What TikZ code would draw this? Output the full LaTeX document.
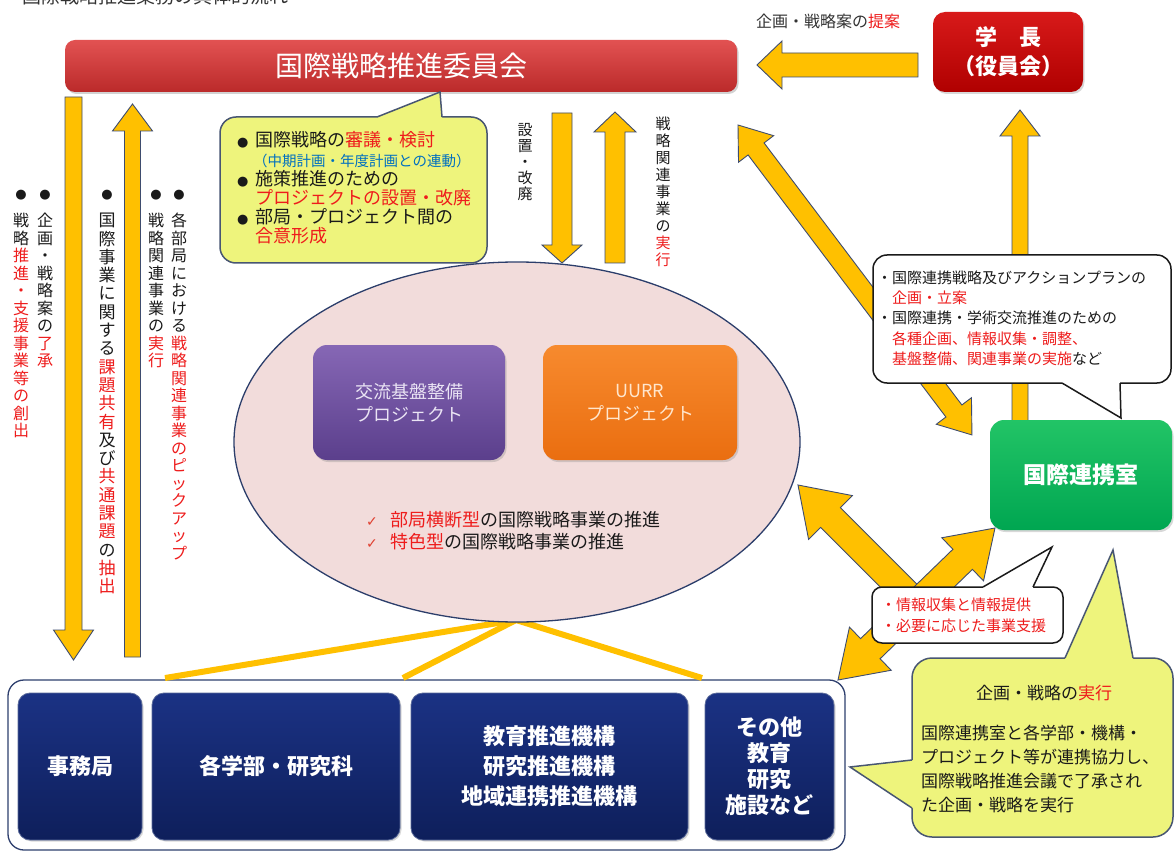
\documentclass[tikz,border=0pt]{standalone}
\usepackage{fontspec}
\setmainfont{Noto Sans CJK JP}
\newfontfamily\dv{DejaVu Sans}
\usetikzlibrary{calc,shapes.geometric,shadows}
\definecolor{ay}{HTML}{FFC000}
\definecolor{ab}{HTML}{3E4C6E}
\definecolor{jred}{HTML}{EE1C1C}
\definecolor{jblue}{HTML}{0070C0}
\definecolor{cyg}{HTML}{EEF47C}
\definecolor{cbd}{HTML}{485672}
\definecolor{wbd}{HTML}{1A1A1A}
\definecolor{ellf}{HTML}{F2DCDB}
\definecolor{elld}{HTML}{2C3E6B}
\definecolor{purT}{HTML}{8667B5}
\definecolor{purB}{HTML}{5B3F8C}
\definecolor{orT}{HTML}{F78A2E}
\definecolor{orB}{HTML}{EA6E10}
\definecolor{grT}{HTML}{22C466}
\definecolor{grB}{HTML}{00A651}
\definecolor{navT}{HTML}{1B3284}
\definecolor{navB}{HTML}{0E1F5B}
\definecolor{navE}{HTML}{5A6A9A}
\definecolor{contB}{HTML}{2E3F6E}
\definecolor{barT}{HTML}{E25252}
\definecolor{barB}{HTML}{BB2A2A}
\definecolor{gakT}{HTML}{D81A1A}
\definecolor{gakB}{HTML}{B00000}
\definecolor{tg}{HTML}{333333}
\definecolor{tblack}{HTML}{1A1A1A}
\definecolor{chk}{HTML}{E04030}
\newcommand\fs[2]{\fontsize{#1}{#2}\selectfont}
\newcommand\bul{\makebox[18pt][l]{\dv\fontsize{13}{13}\selectfont ●}}
\newcommand\chk{\makebox[24pt][l]{\dv\fontsize{14}{14}\selectfont\color{chk}✓}}
\makeatletter
\def\vtend{\vtend@}
\def\vtR{\vtR@}
\def\vtK{\vtK@}
\newcommand\vt[2][17.5pt]{\vbox{\baselineskip=#1\relax\lineskiplimit=-30pt\lineskip=0pt\relax\vt@loop#2\vtend}}
\def\vt@loop#1{\ifx#1\vtend\let\vt@next\relax\else\vt@do#1\let\vt@next\vt@loop\fi\vt@next}
\def\vt@do#1{\ifx#1\vtR\color{jred}\else\ifx#1\vtK\color{tblack}\else\hbox to 1em{\hss#1\hss}\fi\fi}
\makeatother
% single block arrow: start, end, half shaft, half head, head length
\newcommand\sarr[5]{\path[arr] let \p1=(#1),\p2=(#2),\n1={atan2(\y2-\y1,\x2-\x1)},\n2={veclen(\x2-\x1,\y2-\y1)} in
 ([ar]0pt,#3pt) -- ([ar]\n2-#5pt,#3pt) -- ([ar]\n2-#5pt,#4pt) -- ([ar]\n2,0pt) -- ([ar]\n2-#5pt,-#4pt) -- ([ar]\n2-#5pt,-#3pt) -- ([ar]0pt,-#3pt) -- cycle;}
% double block arrow
\newcommand\darr[5]{\path[arr] let \p1=(#1),\p2=(#2),\n1={atan2(\y2-\y1,\x2-\x1)},\n2={veclen(\x2-\x1,\y2-\y1)} in
 ([ar]0pt,0pt) -- ([ar]#5pt,#4pt) -- ([ar]#5pt,#3pt) -- ([ar]\n2-#5pt,#3pt) -- ([ar]\n2-#5pt,#4pt) -- ([ar]\n2,0pt) -- ([ar]\n2-#5pt,-#4pt) -- ([ar]\n2-#5pt,-#3pt) -- ([ar]#5pt,-#3pt) -- ([ar]#5pt,-#4pt) -- cycle;}
% callout tail: fill, border, base1, tip, base2, inward dx, dy
\newcommand\tail[7]{\fill[#1] ($(#3)+(#6,#7)$) -- (#3) -- (#4) -- (#5) -- ($(#5)+(#6,#7)$) -- cycle;
 \draw[draw=#2,line width=1.5pt,line join=miter] (#3) -- (#4) -- (#5);}
\begin{document}
\begin{tikzpicture}[x=1pt,y=-1pt,
  arr/.style={fill=ay,draw=ab,line width=0.9pt,line join=miter},
  ar/.style={shift={(\p1)},rotate=\n1},
  yl/.style={draw=ay,line width=6pt},
  bulnode/.style={font=\dv\fs{13}{13},inner sep=0pt,text=tblack},
  vtx/.style={anchor=north,inner sep=0pt,font=\fs{16}{17.5},text=tblack},
  navbox/.style={rounded corners=12pt,top color=navT,bottom color=navB,draw=navE,line width=0.8pt,text=white,font=\bfseries\fs{22}{30},align=center,minimum height=147pt,drop shadow={opacity=0.3,shadow xshift=1.5pt,shadow yshift=-1.5pt}},
  projbox/.style={rounded corners=14pt,minimum height=115pt,align=center,font=\fs{18}{23},drop shadow={opacity=0.3,shadow xshift=1.5pt,shadow yshift=-2pt}},
  cshape/.style={rounded corners=16pt,draw=cbd,line width=1.5pt,fill=cyg,inner sep=0pt},
  wshape/.style={rounded corners=14pt,draw=wbd,line width=1.5pt,fill=white,inner sep=0pt},
  ctext/.style={anchor=west,align=left,inner sep=0pt,text=tblack},
]
\useasboundingbox (0,0) rectangle (1176,853);
\fill[white] (0,0) rectangle (1176,853);

% title (cut off at the top edge, as in the reference)
\node[anchor=base west,inner sep=0pt,font=\fs{19}{20},text=tg] (title) at (22,4) {国際戦略推進業務の具体的流れ};

% bottom container and units
\node[draw=contB,line width=1.3pt,fill=white,rounded corners=16pt,minimum width=837pt,minimum height=170pt] (cont) at (426.5,765) {};
\node[navbox,minimum width=124pt] (jim) at (80,766.5) {事務局};
\node[navbox,minimum width=248pt] (gak) at (276,766.5) {各学部・研究科};
\node[navbox,minimum width=277pt] (kik) at (549.5,766.5) {教育推進機構\\研究推進機構\\地域連携推進機構};
\node[navbox,minimum width=129pt,font=\bfseries\fs{22}{26}] (oth) at (769.5,766.5) {その他\\教育\\研究\\施設など};

% yellow links from ellipse to the units
\coordinate (yl1) at (165,678);
\coordinate (yl2) at (403,678);
\coordinate (yl3) at (702,678);
\coordinate (ylc) at (516,620);
\draw[yl] (ylc) -- (yl1);
\draw[yl] (ylc) -- (yl2);
\draw[yl] (ylc) -- (yl3);

% ellipse with projects
\node[ellipse,fill=ellf,draw=elld,line width=1.3pt,minimum width=566pt,minimum height=360pt,inner sep=0pt] (ell) at (517,442) {};
\node[projbox,minimum width=192pt,top color=purT,bottom color=purB,text={rgb,255:red,234;green,228;blue,244}] (pur) at (409,402.5) {交流基盤整備\\プロジェクト};
\node[projbox,minimum width=194pt,top color=orT,bottom color=orB,text={rgb,255:red,255;green,230;blue,205}] (ora) at (640,402.5) {UURR\\プロジェクト};
\node[ctext,font=\fs{18}{22}] (etx) at (366,531) {\chk\textcolor{jred}{部局横断型}の国際戦略事業の推進\\\chk\textcolor{jred}{特色型}の国際戦略事業の推進};

% top bar and president
\node[rounded corners=10pt,top color=barT,bottom color=barB,minimum width=672pt,minimum height=52pt,text=white,font=\fs{28}{30},drop shadow={opacity=0.35,shadow xshift=1.5pt,shadow yshift=-2pt}] (bar) at (401,66) {国際戦略推進委員会};
\node[rounded corners=12pt,top color=gakT,bottom color=gakB,minimum width=150pt,minimum height=80pt,text=white,font=\bfseries\fs{22}{29},align=center,drop shadow={opacity=0.3,shadow xshift=1.5pt,shadow yshift=-2pt}] (pres) at (1008,52) {学　長\\（役員会）};
\node[font=\fs{16}{18},text=tg,inner sep=0pt] (plab) at (828,21) {企画・戦略案の\textcolor{jred}{提案}};

% block arrows
\coordinate (t1s) at (918,65);   \coordinate (t1e) at (757,65);
\coordinate (ld1) at (73.5,97);  \coordinate (ld2) at (73.5,660);
\coordinate (lu1) at (132.5,657);\coordinate (lu2) at (132.5,104);
\coordinate (cd1) at (562,113);  \coordinate (cd2) at (562,263);
\coordinate (cu1) at (615,263);  \coordinate (cu2) at (615,112);
\coordinate (dg1) at (738,125);  \coordinate (dg2) at (972,435);
\coordinate (ur1) at (1020,422); \coordinate (ur2) at (1020,110);
\coordinate (lw1) at (915,602);  \coordinate (lw2) at (798,485);
\coordinate (lx1) at (838,680);  \coordinate (lx2) at (995,528);
\sarr{t1s}{t1e}{12}{24}{25}
\sarr{ld1}{ld2}{8.5}{20}{30}
\sarr{lu1}{lu2}{8}{20}{27}
\sarr{cd1}{cd2}{10}{20}{18}
\sarr{cu1}{cu2}{10}{21}{20}
\darr{dg1}{dg2}{10}{22}{30}
\sarr{ur1}{ur2}{8}{20}{26}
\sarr{lw1}{lw2}{14}{31}{46}
\darr{lx1}{lx2}{14}{30}{45}

% vertical texts (left)
\node[bulnode] (bA2) at (21,195) {●};
\node[bulnode] (bA1) at (45,195) {●};
\node[bulnode] (bB) at (107,195) {●};
\node[bulnode] (bC2) at (156,195) {●};
\node[bulnode] (bC1) at (179,195) {●};
\node[vtx] (vA1) at (45,213) {\vt{企画・戦略案の\vtR 了承}};
\node[vtx] (vA2) at (21,213) {\vt{戦略\vtR 推進・支援事業等の創出}};
\node[vtx,font=\fs{17}{18.3}] (vB) at (107,213) {\vt[18.3pt]{国際事業に関する\vtR 課題共有\vtK 及び\vtR 共通課題\vtK の\vtR 抽出}};
\node[vtx] (vC1) at (179,213) {\vt{各部局における\vtR 戦略関連事業のピックアップ}};
\node[vtx] (vC2) at (156,213) {\vt{戦略関連事業の\vtR 実行}};
% vertical texts (centre)
\node[vtx,font=\fs{15}{16}] (vD) at (525,123) {\vt[16pt]{設置・改廃}};
\node[vtx,font=\fs{15}{17}] (vE) at (663,117) {\vt[17pt]{戦略関連事業の\vtR 実行}};

% centre callout
\node[cshape,minimum width=267pt,minimum height=146pt] (co1) at (353.5,190) {};
\coordinate (co1a) at (377,117); \coordinate (co1t) at (440,92); \coordinate (co1b) at (442,117);
\tail{cyg}{cbd}{co1a}{co1t}{co1b}{0}{2}
\node[ctext,font=\fs{18}{19.2}] (co1x) at (237,188) {\bul 国際戦略の\textcolor{jred}{審議・検討}\\
\hspace*{16pt}{\fs{14.5}{19.2}\color{jblue}（中期計画・年度計画との連動）}\\
\bul 施策推進のための\\
\hspace*{18pt}\textcolor{jred}{プロジェクトの設置・改廃}\\
\bul 部局・プロジェクト間の\\
\hspace*{18pt}\textcolor{jred}{合意形成}};

% right callout
\node[wshape,minimum width=298pt,minimum height=128pt] (co2) at (1022,319) {};
\coordinate (co2a) at (1062,383); \coordinate (co2t) at (1121,418); \coordinate (co2b) at (1120,383);
\tail{white}{wbd}{co2a}{co2t}{co2b}{0}{-2}
\node[ctext,font=\fs{15}{20.3}] (co2x) at (877,318) {・国際連携戦略及びアクションプランの\\
\hspace*{1em}\textcolor{jred}{企画・立案}\\
・国際連携・学術交流推進のための\\
\hspace*{1em}\textcolor{jred}{各種企画、情報収集・調整、}\\
\hspace*{1em}\textcolor{jred}{基盤整備、関連事業の実施}など};

% small callout
\node[wshape,minimum width=191pt,minimum height=56pt,rounded corners=10pt] (co3) at (967.5,615) {};
\coordinate (co3a) at (983,587); \coordinate (co3t) at (1052,547); \coordinate (co3b) at (1033,587);
\tail{white}{wbd}{co3a}{co3t}{co3b}{0}{2}
\node[ctext,font=\fs{15}{21},text=jred] (co3x) at (881,615.5) {・情報収集と情報提供\\・必要に応じた事業支援};

% big callout
\node[cshape,minimum width=261pt,minimum height=179pt,rounded corners=20pt] (co4) at (1042.5,747.5) {};
\coordinate (co4a) at (1065,658); \coordinate (co4t) at (1113,550); \coordinate (co4b) at (1133,658);
\tail{cyg}{cbd}{co4a}{co4t}{co4b}{0}{2}
\coordinate (co4c) at (912,760); \coordinate (co4u) at (850,767); \coordinate (co4d) at (912,808);
\tail{cyg}{cbd}{co4c}{co4u}{co4d}{2}{0}
\node[font=\fs{17}{20},text=tblack,inner sep=0pt] (co4h) at (1044,693) {企画・戦略の\textcolor{jred}{実行}};
\node[ctext,font=\fs{17}{24}] (co4x) at (921,769) {国際連携室と各学部・機構・\\プロジェクト等が連携協力し、\\国際戦略推進会議で了承され\\た企画・戦略を実行};

% international office
\node[rounded corners=14pt,top color=grT,bottom color=grB,minimum width=182pt,minimum height=110pt,text=white,font=\bfseries\fs{23}{25},drop shadow={opacity=0.3,shadow xshift=1.5pt,shadow yshift=-2pt}] (iro) at (1081,475) {国際連携室};
\end{tikzpicture}
\end{document}
